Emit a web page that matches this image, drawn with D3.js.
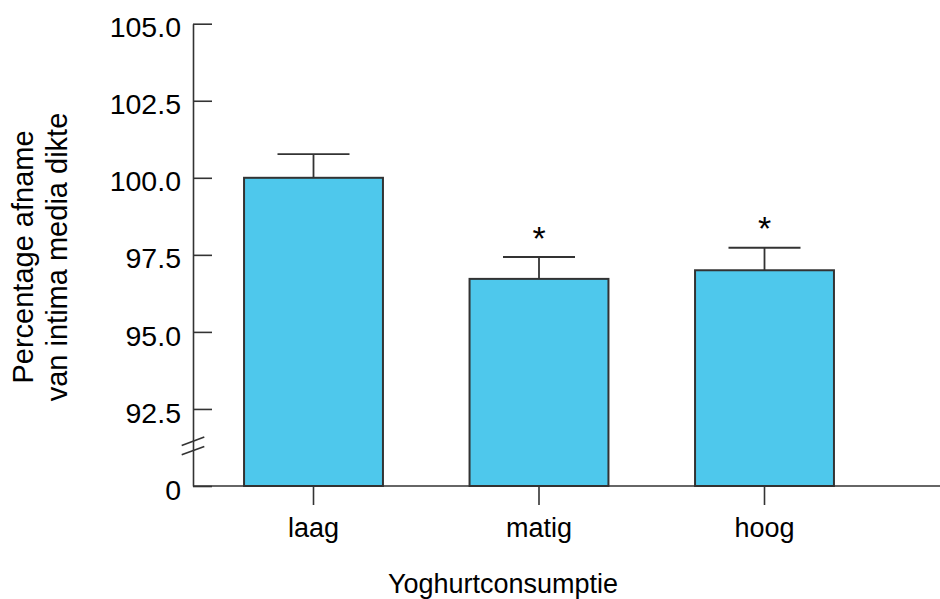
<!DOCTYPE html>
<html>
<head>
<meta charset="utf-8">
<script src="https://cdn.jsdelivr.net/npm/d3@7"></script>
<style>
  html, body { margin: 0; padding: 0; background: #fff; }
  svg text { font-family: "Liberation Sans", Arial, sans-serif; fill: #000; }
</style>
</head>
<body>
<svg id="chart" width="940" height="599"></svg>
<script>
// data
const categories = ["laag", "matig", "hoog"];
const means = [100.0, 96.72, 97.0];
const errors = [0.77, 0.71, 0.73];
const signif = ["", "*", "*"];
const yTicks = [90, 92.5, 95, 97.5, 100, 102.5, 105];
const yTickLabels = ["0", "92.5", "95.0", "97.5", "100.0", "102.5", "105.0"];
const breakValue = 91.3; // where the axis is broken

const svg = d3.select("#chart");
const ink = "#333";

const x = d3.scaleBand()
    .domain(categories)
    .range([200.75, 877.25])
    .paddingInner(0.384)
    .paddingOuter(0.192);

const y = d3.scaleLinear()
    .domain([90, 105])
    .range([486, 23.7]);

const rows = categories.map((c, i) => ({ cat: c, mean: means[i], err: errors[i], sig: signif[i] }));

// bars
svg.append("g").selectAll("rect")
    .data(rows)
    .enter()
    .append("rect")
    .attr("x", d => x(d.cat))
    .attr("y", d => y(d.mean))
    .attr("width", x.bandwidth())
    .attr("height", d => y(90) - y(d.mean))
    .style("fill", "#4ec8ec")
    .style("stroke", ink)
    .style("stroke-width", 2);

// error bars
const eb = svg.append("g").style("stroke", ink).style("stroke-width", 1.8);
eb.selectAll(".stem")
    .data(rows)
    .enter()
    .append("line")
    .attr("x1", d => x(d.cat) + x.bandwidth() / 2)
    .attr("x2", d => x(d.cat) + x.bandwidth() / 2)
    .attr("y1", d => y(d.mean))
    .attr("y2", d => y(d.mean + d.err));
eb.selectAll(".cap")
    .data(rows)
    .enter()
    .append("line")
    .attr("x1", d => x(d.cat) + x.bandwidth() / 2 - 36)
    .attr("x2", d => x(d.cat) + x.bandwidth() / 2 + 36)
    .attr("y1", d => y(d.mean + d.err))
    .attr("y2", d => y(d.mean + d.err));

// significance stars
svg.append("g").selectAll("text")
    .data(rows.filter(d => d.sig))
    .enter()
    .append("text")
    .attr("x", d => x(d.cat) + x.bandwidth() / 2)
    .attr("y", d => y(d.mean + d.err) - 7.5)
    .attr("text-anchor", "middle")
    .style("font-size", "34px")
    .text(d => d.sig);

// y axis
const yAxis = svg.append("g")
    .attr("transform", "translate(193,0)")
    .call(d3.axisLeft(y)
        .tickValues(yTicks)
        .tickFormat((d, i) => yTickLabels[i])
        .tickSize(-19)
        .tickSizeOuter(0)
        .tickPadding(12));
yAxis.selectAll("path, line").style("stroke", ink).style("stroke-width", 1.6);
yAxis.selectAll("text")
    .style("font-size", "28.5px")
    .style("font-family", "'Liberation Sans', Arial, sans-serif")
    .attr("dy", "0.46em");

// axis break marks
const yb = y(breakValue);
svg.append("g").style("stroke", ink).style("stroke-width", 1.6)
    .selectAll("line")
    .data([-4.7, 4.7])
    .enter()
    .append("line")
    .attr("x1", 181.7)
    .attr("x2", 204.3)
    .attr("y1", d => yb + d + 4.2)
    .attr("y2", d => yb + d - 4.2);

// x axis
const xAxis = svg.append("g")
    .attr("transform", "translate(0," + y(90) + ")")
    .call(d3.axisBottom(x).tickSize(19).tickSizeOuter(0).tickPadding(13));
xAxis.select(".domain").remove();
xAxis.selectAll("line").style("stroke", ink).style("stroke-width", 1.6);
xAxis.selectAll("text")
    .style("font-size", "27px")
    .style("font-family", "'Liberation Sans', Arial, sans-serif");
xAxis.append("line")
    .attr("x1", 193)
    .attr("x2", 940)
    .style("stroke", ink)
    .style("stroke-width", 1.6);

// titles
svg.append("text")
    .attr("x", 503)
    .attr("y", 592.5)
    .attr("text-anchor", "middle")
    .style("font-size", "27px")
    .text("Yoghurtconsumptie");

const yTitle = svg.append("text")
    .attr("transform", "translate(33.3,257) rotate(-90)")
    .attr("text-anchor", "middle")
    .style("font-size", "29px");
yTitle.append("tspan").attr("x", 0).attr("y", 0).text("Percentage afname");
yTitle.append("tspan").attr("x", 0).attr("y", 33.4).text("van intima media dikte");
</script>
</body>
</html>
